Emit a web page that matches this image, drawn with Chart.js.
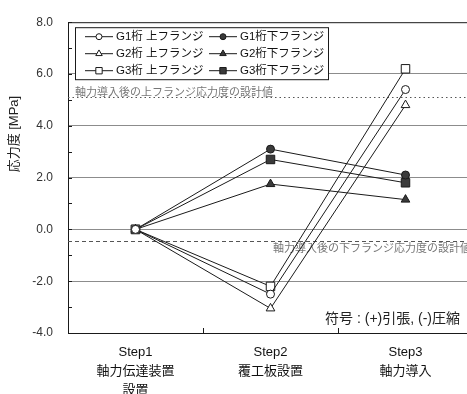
<!DOCTYPE html>
<html>
<head>
<meta charset="utf-8">
<script src="https://cdn.jsdelivr.net/npm/chart.js@4.4.1/dist/chart.umd.min.js"></script>
<style>
  html, body { margin: 0; padding: 0; background: #fff; overflow: hidden; }
  #wrap { width: 480px; height: 394px; }
</style>
</head>
<body>
<div id="wrap"><canvas id="c" width="480" height="394"></canvas></div>
<script>
// Construction steps (multi-line axis labels)
const categories = [
  ["Step1", "軸力伝達装置", "設置"],
  ["Step2", "覆工板設置"],
  ["Step3", "軸力導入"]
];

// Flange stresses [MPa] per step
const g1Top    = [0, -2.5, 5.4];
const g1Bottom = [0, 3.1, 2.1];
const g2Top    = [0, -3.05, 4.8];
const g2Bottom = [0, 1.75, 1.15];
const g3Top    = [0, -2.2, 6.2];
const g3Bottom = [0, 2.7, 1.8];

// Series names
const seriesNames = [
  "G1桁 上フランジ", "G1桁下フランジ",
  "G2桁 上フランジ", "G2桁下フランジ",
  "G3桁 上フランジ", "G3桁下フランジ"
];

// Design stresses after axial force introduction [MPa]
const upperDesign = 5.1;
const lowerDesign = -0.45;
const upperDesignLabel = "軸力導入後の上フランジ応力度の設計値";
const lowerDesignLabel = "軸力導入後の下フランジ応力度の設計値";

// Axis settings
const yMin = -4, yMax = 8, yStep = 1;
const yTitle = "応力度 [MPa]";
const signNote = "符号 : (+)引張, (-)圧縮";

const INK = "#1a1a1a";
const FILL = "#3a3a3a";
const LAT = "'Liberation Sans', Arial, 'Noto Sans CJK JP', sans-serif";

function series(label, data, style, filled, radius) {
  return {
    label, data,
    borderColor: INK, borderWidth: 1,
    pointStyle: style,
    pointRadius: radius, pointHoverRadius: radius,
    pointBackgroundColor: filled ? FILL : "#ffffff",
    pointBorderColor: INK, pointBorderWidth: 1,
    fill: false, tension: 0
  };
}

const datasets = [
  series(seriesNames[0], g1Top,    "circle",   false, 4),
  series(seriesNames[1], g1Bottom, "circle",   true,  4),
  series(seriesNames[2], g2Top,    "triangle", false, 5),
  series(seriesNames[3], g2Bottom, "triangle", true,  5),
  series(seriesNames[4], g3Top,    "rect",     false, 6),
  series(seriesNames[5], g3Bottom, "rect",     true,  6)
];

// Frame, inner ticks, design lines and annotations
const decor = {
  id: "decor",
  beforeDatasetsDraw(chart) {
    const { ctx, chartArea: a, scales: { y } } = chart;
    ctx.save();
    ctx.strokeStyle = "#555";
    ctx.lineWidth = 1;
    // upper design line (dotted)
    let py = Math.round(y.getPixelForValue(upperDesign)) + 0.5;
    ctx.setLineDash([1.5, 3]);
    ctx.beginPath(); ctx.moveTo(a.left, py); ctx.lineTo(a.right, py); ctx.stroke();
    ctx.fillStyle = "#777";
    ctx.font = "11px 'Noto Sans CJK JP'";
    ctx.textBaseline = "bottom";
    ctx.textAlign = "left";
    ctx.fillText(upperDesignLabel, a.left + 7, py);
    // lower design line (dashed)
    py = Math.round(y.getPixelForValue(lowerDesign)) + 0.5;
    ctx.setLineDash([4, 3]);
    ctx.beginPath(); ctx.moveTo(a.left, py); ctx.lineTo(a.right, py); ctx.stroke();
    ctx.textBaseline = "top";
    ctx.textAlign = "right";
    ctx.fillText(lowerDesignLabel, 471, py + 1);
    ctx.restore();
  },
  afterDraw(chart) {
    const { ctx, chartArea: a, scales: { x, y } } = chart;
    ctx.save();
    ctx.strokeStyle = INK;
    ctx.lineWidth = 1;
    // top frame
    ctx.beginPath(); ctx.moveTo(a.left, a.top + 0.5); ctx.lineTo(a.right, a.top + 0.5); ctx.stroke();
    // inner ticks on the value axis
    for (let v = yMin; v <= yMax; v += yStep) {
      const py = Math.round(y.getPixelForValue(v)) + 0.5;
      ctx.beginPath(); ctx.moveTo(a.left, py); ctx.lineTo(a.left + 4, py); ctx.stroke();
    }
    // inner ticks between steps
    for (let i = 0; i < categories.length - 1; i++) {
      const px = Math.round((x.getPixelForValue(i) + x.getPixelForValue(i + 1)) / 2) + 0.5;
      ctx.beginPath(); ctx.moveTo(px, a.bottom); ctx.lineTo(px, a.bottom - 5); ctx.stroke();
    }
    // axis title
    ctx.fillStyle = "#222";
    ctx.font = "13px " + LAT;
    ctx.textAlign = "center";
    ctx.textBaseline = "middle";
    ctx.translate(14, a.top + (a.bottom - a.top) * 0.36);
    ctx.rotate(-Math.PI / 2);
    ctx.fillText(yTitle, 0, 0);
    ctx.restore();

    // sign convention note
    ctx.save();
    ctx.fillStyle = "#222";
    ctx.font = "14px " + LAT;
    ctx.textAlign = "right";
    ctx.textBaseline = "alphabetic";
    ctx.fillText(signNote, 460, a.bottom - 10);
    ctx.restore();

    // legend box
    ctx.save();
    const bx = a.left + 7, by = a.top + 5, bw = 253, bh = 52;
    ctx.fillStyle = "#fff";
    ctx.fillRect(bx, by, bw, bh);
    ctx.strokeStyle = INK;
    ctx.strokeRect(bx + 0.5, by + 0.5, bw, bh);
    ctx.font = "11.5px " + LAT;
    ctx.textBaseline = "middle";
    ctx.textAlign = "left";
    const cols = [bx + 10, bx + 134];
    chart.data.datasets.forEach((ds, i) => {
      const row = Math.floor(i / 2), col = i % 2;
      const lx = cols[col], ly = by + 9 + row * 17;
      ctx.strokeStyle = INK;
      ctx.lineWidth = 1;
      ctx.beginPath(); ctx.moveTo(lx, ly + 0.5); ctx.lineTo(lx + 28, ly + 0.5); ctx.stroke();
      ctx.fillStyle = ds.pointBackgroundColor;
      Chart.helpers.drawPoint(ctx, {
        pointStyle: ds.pointStyle, radius: ds.pointRadius * 0.75,
        borderWidth: 1, rotation: 0
      }, lx + 14, ly + 0.5);
      ctx.fillStyle = "#111";
      ctx.fillText(ds.label, lx + 31, ly + 1);
    });
    ctx.restore();
  }
};

new Chart(document.getElementById("c"), {
  type: "line",
  data: { labels: categories, datasets },
  options: {
    responsive: false,
    animation: false,
    layout: { padding: { left: 0, top: 15, right: 4, bottom: 0 } },
    plugins: { legend: { display: false }, tooltip: { enabled: false } },
    scales: {
      x: {
        offset: true,
        grid: { display: false, drawTicks: false },
        border: { display: true, color: INK, width: 1 },
        ticks: {
          color: "#111",
          font: { family: LAT, size: 13, lineHeight: 1.45 },
          padding: 10, maxRotation: 0, autoSkip: false
        },
        afterFit(s) { s.height = 61; }
      },
      y: {
        min: yMin, max: yMax,
        grid: {
          drawTicks: false,
          color: (c) => {
            const v = c.tick.value;
            return (v % 2 === 0 && v > yMin && v < yMax) ? "#8c8c8c" : "rgba(0,0,0,0)";
          },
          lineWidth: 1
        },
        border: { display: true, color: INK, width: 1 },
        ticks: {
          stepSize: yStep,
          color: "#333",
          font: { family: LAT, size: 12 },
          padding: 15,
          callback: (v) => (v % 2 === 0 ? v.toFixed(1) : "")
        },
        afterFit(s) { s.width = 68; }
      }
    }
  },
  plugins: [decor]
});
</script>
</body>
</html>
